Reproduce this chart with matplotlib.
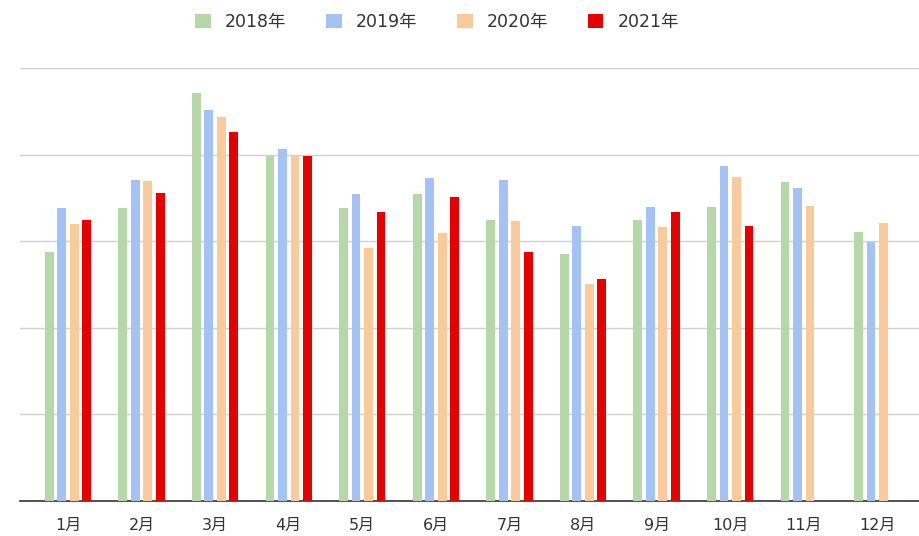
import matplotlib
matplotlib.use("Agg")
import matplotlib.pyplot as plt
import numpy as np

plt.rcParams['font.family'] = ['DejaVu Sans', 'Noto Sans CJK SC']

months = ["1月", "2月", "3月", "4月", "5月", "6月", "7月", "8月", "9月", "10月", "11月", "12月"]
years = ["2018年", "2019年", "2020年", "2021年"]
v2018 = [2.87, 3.38, 4.71, 3.98, 3.38, 3.54, 3.25, 2.85, 3.24, 3.40, 3.68, 3.11]
v2019 = [3.38, 3.71, 4.52, 4.07, 3.54, 3.73, 3.71, 3.18, 3.40, 3.87, 3.62, 2.99]
v2020 = [3.20, 3.69, 4.43, 3.98, 2.92, 3.10, 3.23, 2.51, 3.16, 3.74, 3.41, 3.21]
v2021 = [3.24, 3.56, 4.26, 3.98, 3.34, 3.51, 2.87, 2.56, 3.34, 3.18, None, None]

colors = ["#b6d7a8", "#a4c2f4", "#f9cb9c", "#e60000"]

fig = plt.figure(figsize=(9.2, 5.36), dpi=100)
ax = fig.add_axes([20 / 920, 1 - 501 / 536, 900 / 920, (501 - 68) / 536])

x = np.arange(len(months))
step = 0.17
width = 0.12
for i, (name, vals, c) in enumerate(zip(years, [v2018, v2019, v2020, v2021], colors)):
    xs = [xi + (i - 1.5) * step for xi, v in zip(x, vals) if v is not None]
    ys = [v for v in vals if v is not None]
    ax.bar(xs, ys, width=width, color=c, label=name, zorder=3)

ax.set_xlim(-0.652, 11.58)
ax.set_ylim(0, 5)
ax.set_yticks([1, 2, 3, 4, 5])
ax.set_yticklabels([])
ax.tick_params(axis="y", length=0)
ax.grid(axis="y", color="#d0d0d0", linewidth=1, zorder=0)
ax.set_xticks(x)
ax.set_xticklabels(months, fontsize=11.5, color="#333333")
ax.tick_params(axis="x", length=0, pad=12)
for s in ["top", "right", "left"]:
    ax.spines[s].set_visible(False)
ax.spines["bottom"].set_color("#333333")
ax.spines["bottom"].set_linewidth(1.2)

fig.legend(loc="upper center", bbox_to_anchor=(0.475, 1.005), ncol=4, frameon=False,
           fontsize=12.5, handlelength=0.9, handleheight=0.9, columnspacing=2.3,
           handletextpad=0.8, labelcolor="#333333")

fig.savefig("out.png", dpi=100)
